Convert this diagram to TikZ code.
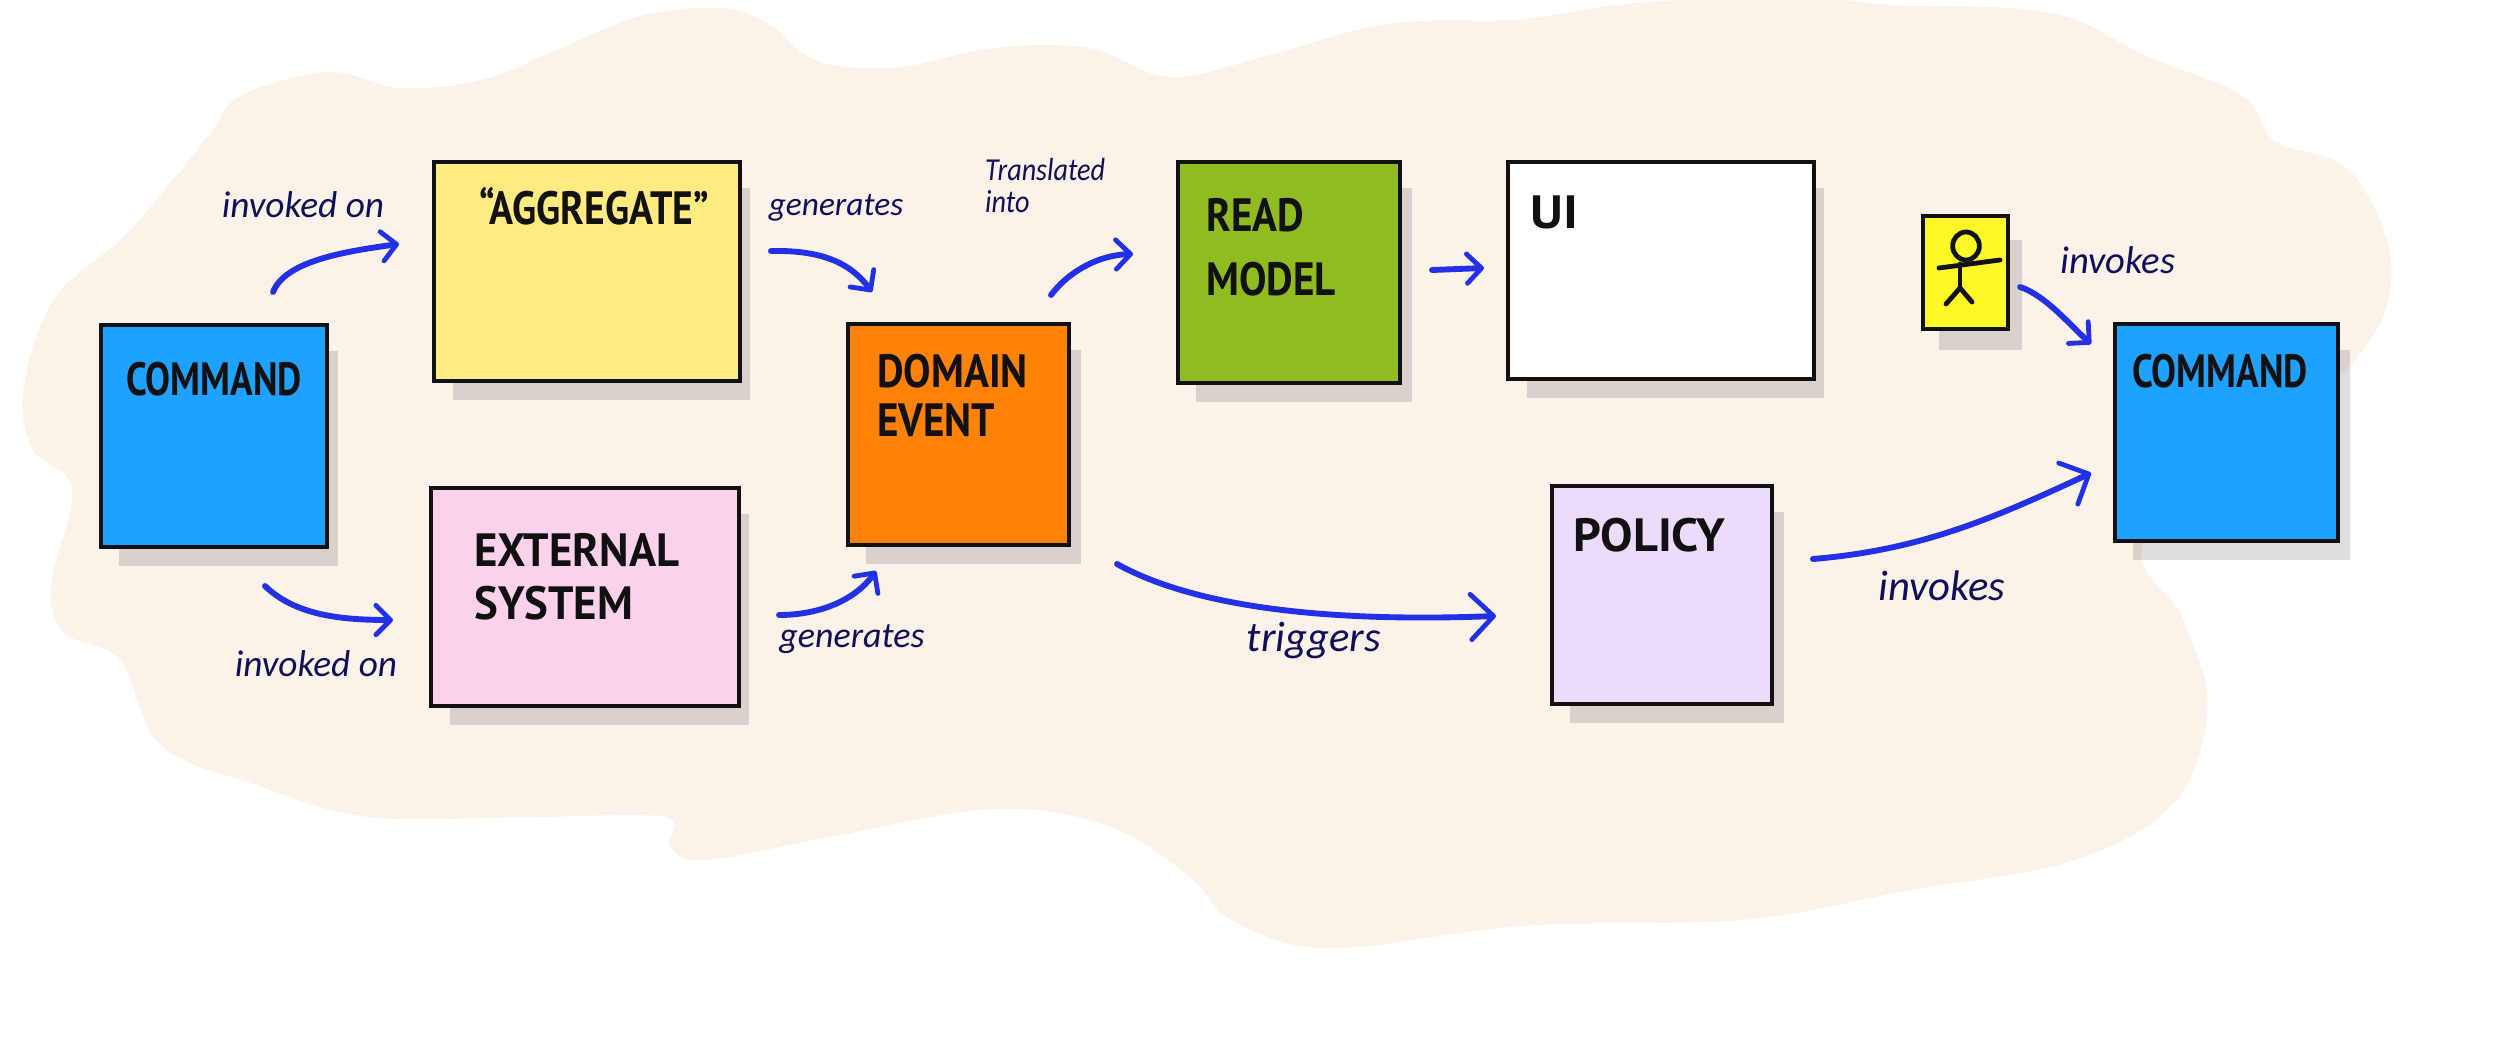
\documentclass[tikz,border=0pt]{standalone}
\usepackage{fontspec}
\usetikzlibrary{arrows.meta,fit,shadows,shapes.geometric}
\newfontfamily\stickyfont{PT Sans}[FakeStretch=0.8]
\newfontfamily\notefont{Carlito}
\definecolor{blobcream}{RGB}{251,242,233}
\definecolor{commandblue}{RGB}{30,161,255}
\definecolor{aggyellow}{RGB}{255,235,128}
\definecolor{extpink}{RGB}{251,210,234}
\definecolor{eventorange}{RGB}{255,130,7}
\definecolor{readgreen}{RGB}{144,188,34}
\definecolor{policylilac}{RGB}{236,220,252}
\definecolor{actoryellow}{RGB}{255,248,39}
\definecolor{inkblack}{RGB}{17,17,17}
\definecolor{inkblue}{RGB}{34,48,232}
\definecolor{inknavy}{RGB}{16,16,90}
\tikzset{
  sticky/.style={draw=inkblack,line width=3.6pt,inner sep=0pt,
    general shadow={fill=black,opacity=.13,rounded corners=8pt,
      shadow xshift=11.5pt,shadow yshift=-17.5pt,shadow scale=.97}},
  stickytext/.style={anchor=north west,inner sep=0pt,align=left,text=inkblack,
    font=\stickyfont\bfseries\fontsize{35}{44}\selectfont},
  note/.style={inner sep=0pt,text=inknavy,align=left,
    font=\notefont\itshape\fontsize{#1}{#1}\selectfont},
  note/.default=25,
  flow/.style={draw=inkblue,line width=4.4pt,line cap=round,
    -{Straight Barb[length=11pt,width=22pt,round,line width=3.6pt]}},
  bigflow/.style={flow,-{Straight Barb[length=17pt,width=34pt,round,line width=3.6pt]}},
  stick/.style={draw=inkblack,line width=3.6pt,line cap=round}
}
\begin{document}
\begin{tikzpicture}[x=0.75pt,y=0.75pt,yscale=-1,xscale=1]
\clip (0,0) rectangle (2512,1044);

%background blob
\begin{scope}[scale=1.602]
\fill [blobcream] plot [smooth cycle,tension=0.6] coordinates {
  (15,240) (35,185) (80,145) (130,85) (150,60) (205,45) (250,55) (300,50)
  (350,30) (400,10) (450,5) (480,15) (510,38) (560,42) (620,30) (680,30)
  (730,48) (790,35) (850,18) (890,13) (950,12) (1020,2) (1120,-2) (1180,3)
  (1280,8) (1340,35) (1400,60) (1420,88) (1465,105) (1490,150) (1490,190)
  (1470,225) (1440,250) (1340,335) (1362,385) (1378,440) (1358,500) (1295,537)
  (1190,556) (1090,574) (950,578) (830,592) (770,575) (740,545) (690,515)
  (620,505) (520,522) (440,537) (418,528) (415,510) (330,510) (230,510) (160,490)
  (100,465) (75,412) (40,395) (32,365) (45,305) (20,280)};
\end{scope}

%sticky notes
\node (cmdA) [sticky,fill=commandblue,fit={(101,325) (327,547)}] {};
\node (agg) [sticky,fill=aggyellow,fit={(434,162) (740,381)}] {};
\node (ext) [sticky,fill=extpink,fit={(431,488) (739,706)}] {};
\node (evt) [sticky,fill=eventorange,fit={(848,324) (1069,545)}] {};
\node (read) [sticky,fill=readgreen,fit={(1178,162) (1400,383)}] {};
\node (ui) [sticky,fill=white,fit={(1508,162) (1814,379)}] {};
\node (policy) [sticky,fill=policylilac,fit={(1552,486) (1772,704)}] {};
\node (actor) [sticky,fill=actoryellow,fit={(1923,216) (2008,329)}] {};
\node (cmdB) [sticky,fill=commandblue,fit={(2115,324) (2338,541)}] {};

%sticky note texts
\node (cmdAtext) [stickytext] at (126,362) {COMMAND};
\node (aggtext) [stickytext,xscale=1.06] at (479,187) {“AGGREGATE”};
\node (exttext) [stickytext,xscale=1.2] at (474,533) {EXTERNAL\\[-4pt]SYSTEM};
\node (evttext) [stickytext,xscale=1.1] at (877,354) {DOMAIN\\[-7pt]EVENT};
\node (readtext) [stickytext,xscale=1.1] at (1206,198) {READ\\[4pt]MODEL};
\node (uitext) [stickytext,xscale=1.4] at (1530,196) {UI};
\node (policytext) [stickytext,xscale=1.3] at (1573,518) {POLICY};
\node (cmdBtext) [stickytext] at (2132,354) {COMMAND};

%actor
\node (head) [stick,ellipse,minimum width=20pt,minimum height=21pt,inner sep=0pt] at (1966,246) {};
\coordinate (neck) at (1960,264);
\coordinate (hip) at (1960,288);
\coordinate (armL) at (1939,268);
\coordinate (armR) at (2000,260);
\coordinate (footL) at (1946,304);
\coordinate (footR) at (1972,302);
\draw [stick] (armL) -- (armR);
\draw [stick] (neck) -- (hip);
\draw [stick] (footL) -- (hip) -- (footR);

%arrow ends
\coordinate (cmdAup) at (273,292);
\coordinate (aggin) at (399,244);
\coordinate (cmdAdown) at (265,586);
\coordinate (extin) at (393,620);
\coordinate (aggout) at (771,251);
\coordinate (evtinA) at (872,292);
\coordinate (extout) at (779,615);
\coordinate (evtinB) at (876,571);
\coordinate (evtup) at (1051,295);
\coordinate (readin) at (1133,254);
\coordinate (readout) at (1432,270);
\coordinate (uiin) at (1484,268);
\coordinate (evtdown) at (1117,564);
\coordinate (policyin) at (1496,616);
\coordinate (actorout) at (2020,287);
\coordinate (cmdBinA) at (2091,344);
\coordinate (policyout) at (1813,559);
\coordinate (cmdBinB) at (2091,473);

\draw [flow] (cmdAup) .. controls (285,262) and (340,252) .. (aggin);
\draw [flow] (cmdAdown) .. controls (295,615) and (340,620) .. (extin);
\draw [flow] (aggout) .. controls (820,250) and (850,262) .. (evtinA);
\draw [flow] (extout) .. controls (820,615) and (855,600) .. (evtinB);
\draw [flow] (evtup) .. controls (1070,270) and (1100,255) .. (readin);
\draw [flow] (readout) -- (uiin);
\draw [bigflow] (evtdown) .. controls (1200,610) and (1340,622) .. (policyin);
\draw [flow] (actorout) .. controls (2045,295) and (2070,325) .. (cmdBinA);
\draw [bigflow] (policyout) .. controls (1920,550) and (1990,520) .. (cmdBinB);

%arrow labels
\node (onA) [note=28] at (303,205) {invoked on};
\node (onB) [note=28] at (316,664) {invoked on};
\node (genA) [note] at (836,208) {generates};
\node (genB) [note=27] at (852,639) {generates};
\node (into) [note=24,xscale=.88,anchor=north west] at (985,158) {Translated\\into};
\node (trig) [note=32] at (1314,640) {triggers};
\node (invA) [note=29] at (2118,260) {invokes};
\node (invB) [note=32] at (1942,586) {invokes};
\end{tikzpicture}
\end{document}
